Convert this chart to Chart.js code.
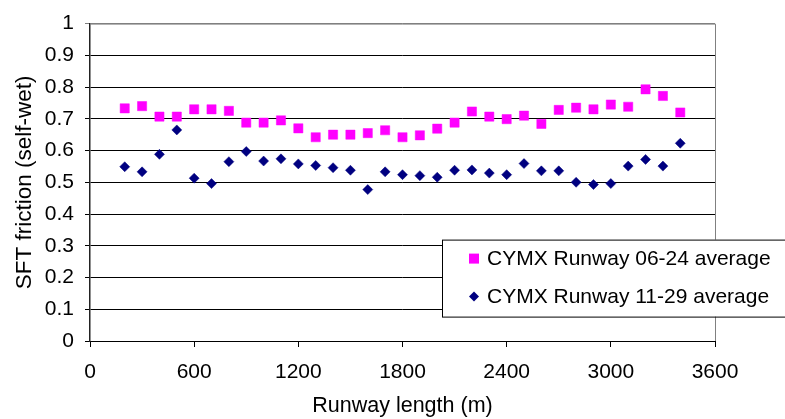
<!DOCTYPE html>
<html>
<head>
<meta charset="utf-8">
<script src="https://cdn.jsdelivr.net/npm/chart.js@4/dist/chart.umd.min.js"></script>
<style>
  html, body { margin: 0; padding: 0; background: #fff; }
  #wrap { width: 785px; height: 419px; position: relative; }
</style>
</head>
<body>
<div id="wrap"><canvas id="chart"></canvas></div>
<script>
// runway position of each averaged reading (m)
const runwayLength = [200, 300, 400, 500, 600, 700, 800, 900, 1000, 1100, 1200,
  1300, 1400, 1500, 1600, 1700, 1800, 1900, 2000, 2100, 2200, 2300, 2400, 2500,
  2600, 2700, 2800, 2900, 3000, 3100, 3200, 3300, 3400];

// SFT friction, self-wet
const runway0624 = [0.733, 0.740, 0.707, 0.707, 0.730, 0.730, 0.725, 0.688, 0.688,
  0.695, 0.670, 0.642, 0.650, 0.650, 0.655, 0.664, 0.642, 0.648, 0.669, 0.688,
  0.723, 0.707, 0.699, 0.710, 0.684, 0.728, 0.735, 0.730, 0.745, 0.738, 0.793,
  0.772, 0.720];
const runway1129 = [0.549, 0.533, 0.588, 0.665, 0.513, 0.496, 0.565, 0.597, 0.567,
  0.574, 0.558, 0.553, 0.546, 0.538, 0.477, 0.533, 0.524, 0.521, 0.516, 0.538,
  0.539, 0.529, 0.524, 0.559, 0.536, 0.536, 0.500, 0.493, 0.496, 0.551, 0.572,
  0.551, 0.623];

const xTicks = [0, 600, 1200, 1800, 2400, 3000, 3600];
const seriesNames = ['CYMX Runway 06-24 average', 'CYMX Runway 11-29 average'];

const FONT = 'Liberation Sans, Arial, sans-serif';
const FONT_SIZE = 21;

function points(ys) {
  return runwayLength.map((x, i) => ({ x: x, y: ys[i] }));
}

// gray frame on top/right of the plot area
const plotFrame = {
  id: 'plotFrame',
  afterDraw(chart) {
    const a = chart.chartArea;
    const ctx = chart.ctx;
    ctx.save();
    ctx.strokeStyle = '#808080';
    ctx.lineWidth = 1;
    ctx.beginPath();
    ctx.moveTo(a.left, a.top + 0.5);
    ctx.lineTo(a.right + 0.5, a.top + 0.5);
    ctx.lineTo(a.right + 0.5, a.bottom);
    ctx.stroke();
    ctx.restore();
  }
};

// boxed legend sitting over the lower right of the plot (runs off the right edge)
const boxLegend = {
  id: 'boxLegend',
  afterDraw(chart) {
    const a = chart.chartArea;
    const ctx = chart.ctx;
    const left = a.left + 352, top = a.top + 216, w = 400, h = 77;
    ctx.save();
    ctx.fillStyle = '#fff';
    ctx.fillRect(left, top, w, h);
    ctx.strokeStyle = '#000';
    ctx.lineWidth = 1;
    ctx.strokeRect(left + 0.5, top + 0.5, w, h);
    ctx.font = FONT_SIZE + 'px ' + FONT;
    ctx.textBaseline = 'middle';
    chart.data.datasets.forEach((ds, i) => {
      const cy = top + 19 + i * 38;
      const cx = left + 32;
      ctx.fillStyle = ds.backgroundColor;
      ctx.beginPath();
      if (ds.pointStyle === 'rect') {
        ctx.rect(cx - 5, cy - 5, 10, 10);
      } else {
        ctx.moveTo(cx, cy - 5);
        ctx.lineTo(cx + 5, cy);
        ctx.lineTo(cx, cy + 5);
        ctx.lineTo(cx - 5, cy);
        ctx.closePath();
      }
      ctx.fill();
      ctx.fillStyle = '#000';
      ctx.fillText(ds.label, left + 45, cy + 1);
    });
    ctx.restore();
  }
};

new Chart(document.getElementById('chart'), {
  type: 'scatter',
  data: {
    datasets: [
      {
        label: seriesNames[0],
        data: points(runway0624),
        pointStyle: 'rect',
        pointRadius: 6.5,
        pointHoverRadius: 6.5,
        backgroundColor: '#ff00ff',
        borderColor: '#ff00ff',
        borderWidth: 0.5
      },
      {
        label: seriesNames[1],
        data: points(runway1129),
        pointStyle: 'rectRot',
        pointRadius: 5,
        pointHoverRadius: 5,
        backgroundColor: '#000080',
        borderColor: '#000080',
        borderWidth: 0.5
      }
    ]
  },
  options: {
    responsive: true,
    maintainAspectRatio: false,
    animation: false,
    events: [],
    layout: { padding: { top: 19, right: 70, left: 0, bottom: 0 } },
    plugins: {
      legend: { display: false },
      tooltip: { enabled: false }
    },
    scales: {
      x: {
        type: 'linear',
        min: 0,
        max: 3600,
        afterBuildTicks: (s) => { s.ticks = xTicks.map(v => ({ value: v })); },
        afterFit: (s) => { s.height = 78; },
        grid: { drawOnChartArea: false, drawTicks: true, tickLength: 6, color: '#000' },
        border: { color: '#000', width: 1 },
        ticks: {
          color: '#000',
          font: { family: FONT, size: FONT_SIZE },
          padding: 13,
          maxRotation: 0,
          callback: (v) => String(v)
        },
        title: {
          display: true,
          text: 'Runway length (m)',
          color: '#000',
          font: { family: FONT, size: 21.5 },
          padding: { top: 4, bottom: 0 }
        }
      },
      y: {
        min: 0,
        max: 1,
        afterFit: (s) => { s.width = 90; },
        grid: {
          color: (c) => (c.tick && c.tick.value === 1 ? '#808080' : '#000'),
          tickLength: 5
        },
        border: { color: '#222', width: 1.5 },
        ticks: {
          stepSize: 0.1,
          color: '#000',
          font: { family: FONT, size: FONT_SIZE },
          padding: 11,
          callback: (v) => String(Math.round(v * 10) / 10)
        },
        title: {
          display: true,
          text: 'SFT friction (self-wet)',
          color: '#000',
          font: { family: FONT, size: 22.5 },
          padding: { top: 11, bottom: 0 }
        }
      }
    }
  },
  plugins: [plotFrame, boxLegend]
});
</script>
</body>
</html>
